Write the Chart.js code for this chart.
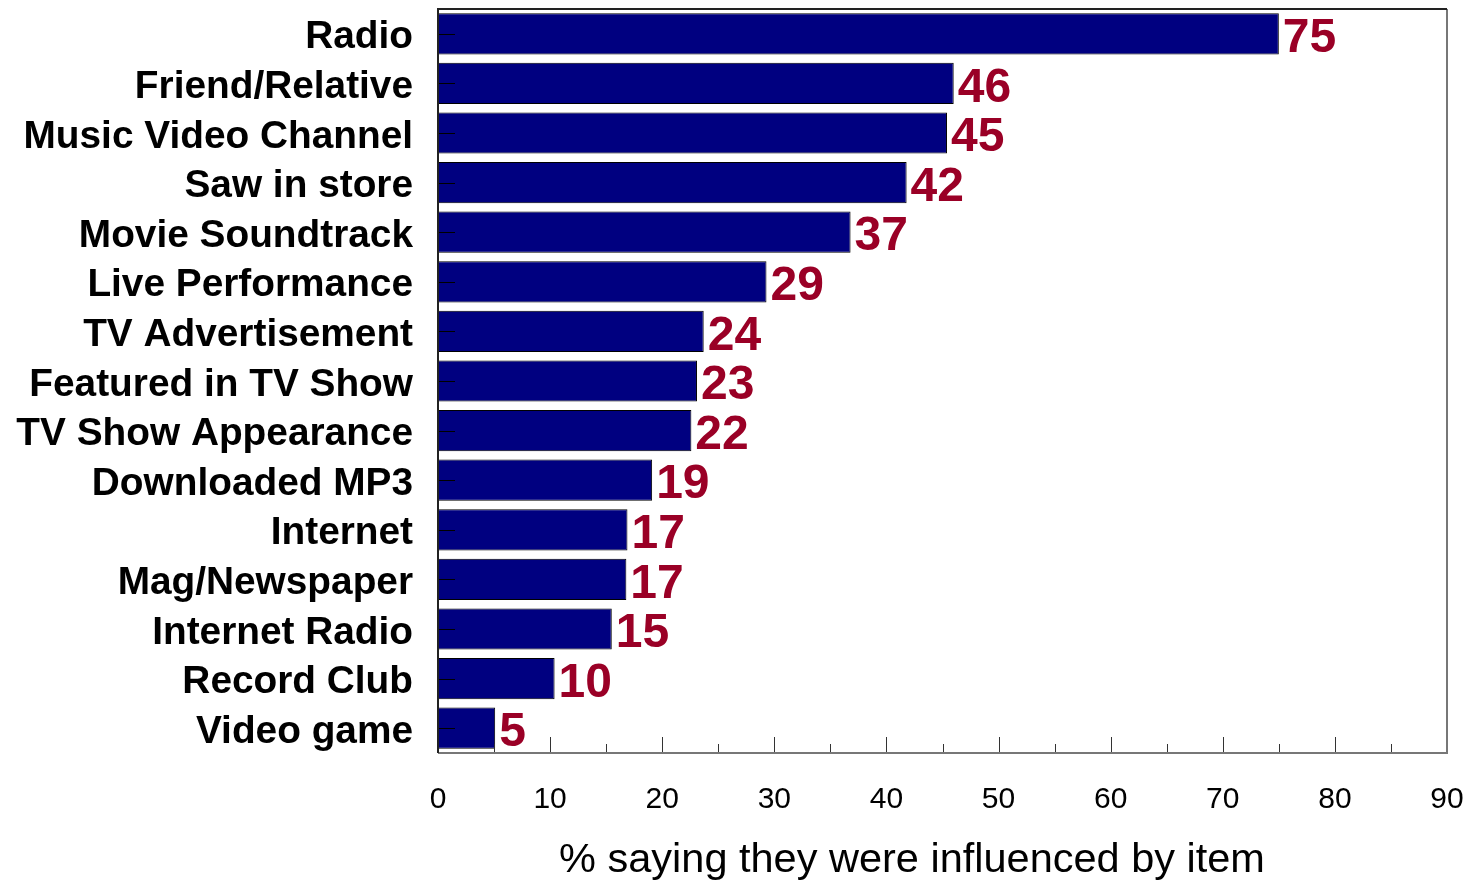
<!DOCTYPE html>
<html>
<head>
<meta charset="utf-8">
<script src="https://cdn.jsdelivr.net/npm/chart.js@4"></script>
<style>
  html, body { margin: 0; padding: 0; background: #fff; }
  #wrap { width: 1470px; height: 880px; }
</style>
</head>
<body>
<div id="wrap"><canvas id="chart" width="1470" height="880"></canvas></div>
<script>
const categories = ['Radio', 'Friend/Relative', 'Music Video Channel', 'Saw in store', 'Movie Soundtrack',
  'Live Performance', 'TV Advertisement', 'Featured in TV Show', 'TV Show Appearance', 'Downloaded MP3',
  'Internet', 'Mag/Newspaper', 'Internet Radio', 'Record Club', 'Video game'];
const percentInfluenced = [75, 46, 45, 42, 37, 29, 24, 23, 22, 19, 17, 17, 15, 10, 5];
// where the bar ends (a few values sit slightly off their rounded label)
const barValues = [75, 46, 45.4, 41.8, 36.8, 29.3, 23.7, 23.1, 22.6, 19.1, 16.9, 16.8, 15.5, 10.4, 5.1];
const xTicks = [0, 10, 20, 30, 40, 50, 60, 70, 80, 90];
const axisTitle = '% saying they were influenced by item';

const FONT = '"Liberation Sans", Arial, sans-serif';

// inward tick marks, frame and bar value labels
const decorations = {
  id: 'decorations',
  afterDatasetsDraw(chart) {
    const { ctx, chartArea: a, scales: { x, y } } = chart;
    ctx.save();
    // x ticks (major every 10, minor every 5), drawn upward from the axis
    ctx.strokeStyle = '#333';
    ctx.lineWidth = 1;
    for (let v = 5; v < 90; v += 5) {
      const px = Math.round(x.getPixelForValue(v)) + 0.5;
      const len = v % 10 === 0 ? 16 : 9;
      ctx.beginPath();
      ctx.moveTo(px, a.bottom);
      ctx.lineTo(px, a.bottom - len);
      ctx.stroke();
    }
    // y ticks at category centres
    ctx.strokeStyle = '#000';
    categories.forEach((c, i) => {
      const py = Math.round(y.getPixelForValue(i)) + 0.5;
      ctx.beginPath();
      ctx.moveTo(a.left, py);
      ctx.lineTo(a.left + 17, py);
      ctx.stroke();
    });
    // frame
    ctx.lineWidth = 2;
    ctx.strokeStyle = '#777';
    ctx.beginPath();
    ctx.moveTo(a.left, a.bottom);
    ctx.lineTo(a.right, a.bottom);
    ctx.lineTo(a.right, a.top);
    ctx.stroke();
    ctx.strokeStyle = '#222';
    ctx.beginPath();
    ctx.moveTo(a.right, a.top);
    ctx.lineTo(a.left, a.top);
    ctx.lineTo(a.left, a.bottom);
    ctx.stroke();

    // value labels
    ctx.fillStyle = '#9a0026';
    ctx.font = 'bold 48px ' + FONT;
    ctx.textAlign = 'left';
    ctx.textBaseline = 'middle';
    const meta = chart.getDatasetMeta(0);
    meta.data.forEach((bar, i) => {
      ctx.fillText(String(percentInfluenced[i]), bar.x + 4, bar.y + 5);
    });

    // axis title
    ctx.fillStyle = '#000';
    ctx.font = '41.5px ' + FONT;
    ctx.textAlign = 'center';
    ctx.fillText(axisTitle, 912, 861);
    ctx.restore();
  }
};

new Chart(document.getElementById('chart'), {
  type: 'bar',
  data: {
    labels: categories,
    datasets: [{
      data: barValues,
      backgroundColor: '#000080',
      borderColor: '#000',
      borderWidth: 1,
      borderSkipped: false,
      barPercentage: 0.83,
      categoryPercentage: 1.0
    }]
  },
  options: {
    indexAxis: 'y',
    responsive: false,
    animation: false,
    layout: { padding: { top: 9, right: 23, left: 0, bottom: 0 } },
    plugins: { legend: { display: false }, tooltip: { enabled: false } },
    scales: {
      x: {
        min: 0,
        max: 90,
        afterBuildTicks(scale) { scale.ticks = xTicks.map(v => ({ value: v })); },
        afterFit(scale) {
          scale.height = 127;
          scale.paddingLeft = 0;
          scale.paddingRight = 0;
        },
        grid: { display: false, drawTicks: false },
        border: { display: false },
        ticks: {
          color: '#000',
          font: { family: FONT, size: 30 },
          padding: 29
        }
      },
      y: {
        afterFit(scale) {
          scale.width = 438;
          scale.paddingTop = 0;
          scale.paddingBottom = 0;
        },
        grid: { display: false, drawTicks: false },
        border: { display: false },
        ticks: {
          color: '#000',
          font: { family: FONT, size: 38.8, weight: 'bold' },
          padding: 25,
          labelOffset: 4
        }
      }
    }
  },
  plugins: [decorations]
});
</script>
</body>
</html>
